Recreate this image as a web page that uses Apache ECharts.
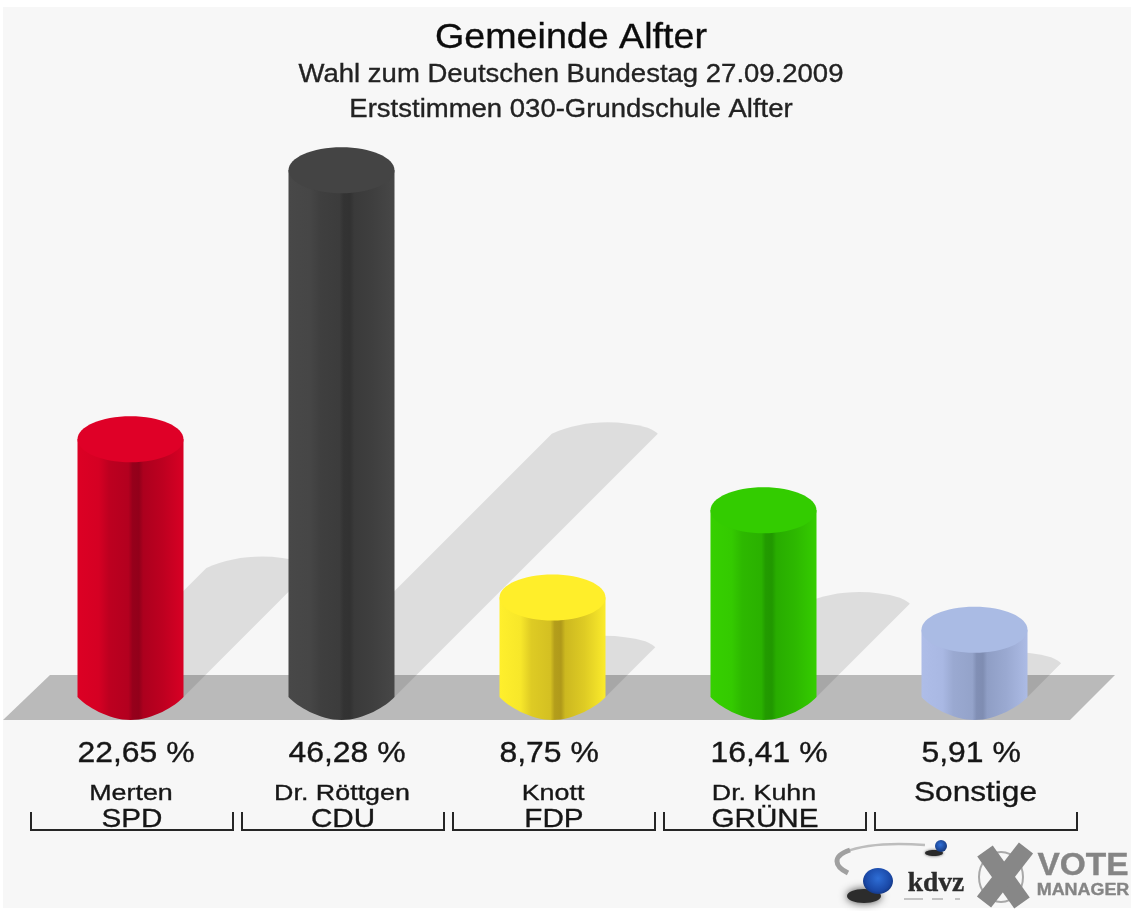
<!DOCTYPE html>
<html>
<head>
<meta charset="utf-8">
<style>
html,body{margin:0;padding:0;background:#fff}
#chart{width:1131px;height:911px;filter:blur(.7px)}
</style>
<script src="https://cdn.jsdelivr.net/npm/echarts@6/dist/echarts.min.js"></script>
</head>
<body>
<div id="chart"></div>
<script>
// ---- data ----
const titleText = 'Gemeinde Alfter';
const subtitleLines = ['Wahl zum Deutschen Bundestag 27.09.2009', 'Erststimmen 030-Grundschule Alfter'];
const candidates = ['Merten', 'Dr. Röttgen', 'Knott', 'Dr. Kuhn', 'Sonstige'];
const parties = ['SPD', 'CDU', 'FDP', 'GRÜNE', ''];
const shares = [22.65, 46.28, 8.75, 16.41, 5.91];
const shareLabels = ['22,65 %', '46,28 %', '8,75 %', '16,41 %', '5,91 %'];
const edgeColors = ['#dc0024', '#484848', '#ffef2c', '#36d000', '#aebde8'];
const darkColors = ['#92001a', '#323232', '#b09a1a', '#219800', '#7f8db2'];
const capColors  = ['#df0027', '#444444', '#ffee2a', '#33cc00', '#aabbe4'];

// ---- drawing style ----
const FONT = '"Liberation Sans", Arial, sans-serif';
const R = 53, RY = 23;

function mix(a, b, t) {
  const p = c => [1, 3, 5].map(i => parseInt(c.substr(i, 2), 16));
  const A = p(a), B = p(b);
  return 'rgb(' + A.map((v, i) => Math.round(v + (B[i] - v) * t)).join(',') + ')';
}
function bodyFill(i) {
  const e = edgeColors[i], d = darkColors[i];
  return {
    type: 'linear', x: 0, y: 0, x2: 1, y2: 0,
    colorStops: [
      { offset: 0, color: e },
      { offset: 0.2, color: mix(e, d, 0.1) },
      { offset: 0.3, color: mix(e, d, 0.42) },
      { offset: 0.48, color: mix(e, d, 0.55) },
      { offset: 0.52, color: mix(e, d, 0.95) },
      { offset: 0.58, color: d },
      { offset: 0.62, color: mix(e, d, 0.65) },
      { offset: 0.8, color: mix(e, d, 0.42) },
      { offset: 1, color: mix(e, d, 0.05) }
    ]
  };
}
function txt(text, x, y, size, sx, extra) {
  const fill = (extra && extra.style && extra.style.fill) || '#161616';
  return Object.assign({
    type: 'text', x: x, y: y, scaleX: sx, silent: true,
    style: Object.assign({
      text: text, font: size + 'px ' + FONT, fill: fill,
      stroke: fill, lineWidth: 0.35,
      textAlign: 'center', textVerticalAlign: 'middle'
    }, extra && extra.style)
  }, extra && extra.el);
}

const chart = echarts.init(document.getElementById('chart'), null, { renderer: 'canvas' });
const catData = shares.map((v, i) => [i, v]);

chart.setOption({
  animation: false,
  backgroundColor: '#ffffff',
  tooltip: { show: false },
  grid: { left: 25, width: 1055, top: 128, height: 569 },
  xAxis: { type: 'category', data: candidates, show: false },
  yAxis: { type: 'value', min: 0, max: 50, show: false },
  graphic: {
    elements: [
      { type: 'rect', z: -10, silent: true, shape: { x: 3, y: 7, width: 1128, height: 901 }, style: { fill: '#f7f7f7' } },
      // title block
      Object.assign(txt(titleText, 571, 38, 35, 1.075, { style: { fill: '#0c0c0c' } }), { z: 5 }),
      Object.assign(txt(subtitleLines[0], 571, 75, 26, 1.058, { style: { fill: '#222222' } }), { z: 5 }),
      Object.assign(txt(subtitleLines[1], 571, 110, 26, 1.058, { style: { fill: '#222222' } }), { z: 5 }),
      // kdvz logo
      { type: 'bezierCurve', z: 5, silent: true, shape: { x1: 925, y1: 845, cpx1: 885, cpy1: 842, cpx2: 860, cpy2: 846, x2: 845, y2: 852 }, style: { fill: 'none', stroke: '#bdbdbd', lineWidth: 2.5 } },
      { type: 'bezierCurve', z: 5, silent: true, shape: { x1: 850, y1: 850, cpx1: 832, cpy1: 856, cpx2: 834, cpy2: 866, x2: 848, y2: 873 }, style: { fill: 'none', stroke: '#a0a0a0', lineWidth: 5 } },
      { type: 'ellipse', z: 5, silent: true, shape: { cx: 934, cy: 853, rx: 9, ry: 3 }, style: { fill: '#2a2a2a', shadowBlur: 3, shadowColor: '#555' } },
      { type: 'circle', z: 5, silent: true, shape: { cx: 941, cy: 846, r: 6 }, style: { fill: { type: 'radial', x: 0.45, y: 0.4, r: 0.7, colorStops: [{ offset: 0, color: '#2f6fd8' }, { offset: 1, color: '#12306e' }] } } },
      { type: 'ellipse', z: 5, silent: true, shape: { cx: 864, cy: 896, rx: 17, ry: 7 }, style: { fill: '#2c2c2c', shadowBlur: 8, shadowColor: '#444' } },
      { type: 'ellipse', z: 5, silent: true, shape: { cx: 878, cy: 881, rx: 15, ry: 13 }, style: { fill: { type: 'radial', x: 0.5, y: 0.4, r: 0.7, colorStops: [{ offset: 0, color: '#2e6ed6' }, { offset: 0.7, color: '#1a48a6' }, { offset: 1, color: '#0f2b6a' }] } } },
      Object.assign(txt('kdvz', 936, 884, 27, 1.02, { style: { font: 'bold 27px "Liberation Serif", serif', fill: '#2c2c2c' } }), { z: 5 }),
      { type: 'rect', z: 5, silent: true, shape: { x: 904, y: 898, width: 19, height: 2 }, style: { fill: '#c4c4c4' } },
      { type: 'rect', z: 5, silent: true, shape: { x: 932, y: 898, width: 11, height: 2 }, style: { fill: '#c4c4c4' } },
      { type: 'rect', z: 5, silent: true, shape: { x: 955, y: 898, width: 5, height: 2 }, style: { fill: '#c4c4c4' } },
      // vote manager logo
      { type: 'ellipse', z: 5, silent: true, shape: { cx: 1001, cy: 877, rx: 22, ry: 25 }, style: { fill: 'none', stroke: '#a8a8a8', lineWidth: 2 } },
      { type: 'line', z: 5, silent: true, shape: { x1: 985, y1: 851, x2: 1022, y2: 903 }, style: { stroke: '#878787', lineWidth: 19 } },
      { type: 'line', z: 5, silent: true, shape: { x1: 1026, y1: 848, x2: 984, y2: 902 }, style: { stroke: '#878787', lineWidth: 18 } },
      Object.assign(txt('VOTE', 1083, 866, 31, 1.08, { style: { font: 'bold 31px ' + FONT, fill: '#858585' } }), { z: 5 }),
      Object.assign(txt('MANAGER', 1083, 891, 16, 1.12, { style: { font: 'bold 16px ' + FONT, fill: '#858585' } }), { z: 5 })
    ]
  },
  series: [
    { // floor
      type: 'custom', coordinateSystem: 'cartesian2d', silent: true, z: 1,
      data: [[0, 0]], encode: { x: 0, y: 1 },
      renderItem: function (params, api) {
        const base = api.coord([0, 0])[1];
        const cs = params.coordSys;
        return {
          type: 'polygon',
          shape: { points: [[cs.x + 25, base - 22], [cs.x + cs.width + 35, base - 22], [cs.x + cs.width - 10, base + 23], [cs.x - 22, base + 23]] },
          style: { fill: '#bababa' }
        };
      }
    },
    { // cast shadows
      type: 'custom', coordinateSystem: 'cartesian2d', silent: true, z: 2,
      data: catData, encode: { x: 0, y: 1 },
      renderItem: function (params, api) {
        const top = api.coord([api.value(0), api.value(1)]);
        const base = api.coord([api.value(0), 0])[1];
        const d = (base - top[1]) / 2;
        const L = top[0] - R, Rt = top[0] + R, Y = base - d;
        const path = 'M' + L + ' ' + base + ' L' + (L + d) + ' ' + Y +
          ' C' + (L + d + 28) + ' ' + (Y - 13) + ' ' + (Rt + d - 42) + ' ' + (Y - 15) + ' ' + (Rt + d - 10) + ' ' + (Y - 6) +
          ' Q' + (Rt + d - 3) + ' ' + (Y - 3) + ' ' + (Rt + d) + ' ' + Y +
          ' L' + Rt + ' ' + base + ' Z';
        return { type: 'path', shape: { pathData: path }, style: { fill: 'rgba(0,0,0,0.1)' } };
      }
    },
    { // cylinders
      type: 'custom', coordinateSystem: 'cartesian2d', silent: true, z: 3,
      data: catData, encode: { x: 0, y: 1 },
      renderItem: function (params, api) {
        const i = params.dataIndex;
        const top = api.coord([api.value(0), api.value(1)]);
        const base = api.coord([api.value(0), 0])[1];
        const x = top[0], y = top[1];
        const body = 'M' + (x - R) + ' ' + y + ' L' + (x - R) + ' ' + base +
          ' C' + (x - R + 8) + ' ' + (base + 9) + ' ' + (x - 22) + ' ' + (base + RY) + ' ' + x + ' ' + (base + RY) +
          ' C' + (x + 22) + ' ' + (base + RY) + ' ' + (x + R - 8) + ' ' + (base + 9) + ' ' + (x + R) + ' ' + base +
          ' L' + (x + R) + ' ' + y + ' Z';
        return {
          type: 'group',
          children: [
            { type: 'path', shape: { pathData: body }, style: { fill: bodyFill(i) } },
            { type: 'ellipse', shape: { cx: x, cy: y, rx: R, ry: RY }, style: { fill: capColors[i] } }
          ]
        };
      }
    },
    { // percent labels, candidate names, party names, brackets
      type: 'custom', coordinateSystem: 'cartesian2d', silent: true, z: 4,
      data: catData, encode: { x: 0, y: 1 },
      renderItem: function (params, api) {
        const i = params.dataIndex;
        const x = api.coord([api.value(0), 0])[0];
        const base = api.coord([api.value(0), 0])[1];
        const kids = [
          txt(shareLabels[i], x - R, base + 57, 29, 1.1, { style: { textAlign: 'left' } }),
          parties[i]
            ? txt(candidates[i], x + 0.5, base + 97, 22, 1.22)
            : txt(candidates[i], x + 1, base + 96, 28, 1.13),
          {
            type: 'polyline',
            shape: { points: [[x - 99.5, base + 115], [x - 99.5, base + 133], [x + 102.5, base + 133], [x + 102.5, base + 115]] },
            style: { fill: 'none', stroke: '#262626', lineWidth: 2 }
          }
        ];
        if (parties[i]) kids.push(txt(parties[i], x + 1.5, base + 123, 26, 1.14));
        return { type: 'group', children: kids };
      }
    }
  ]
});
</script>
</body>
</html>
